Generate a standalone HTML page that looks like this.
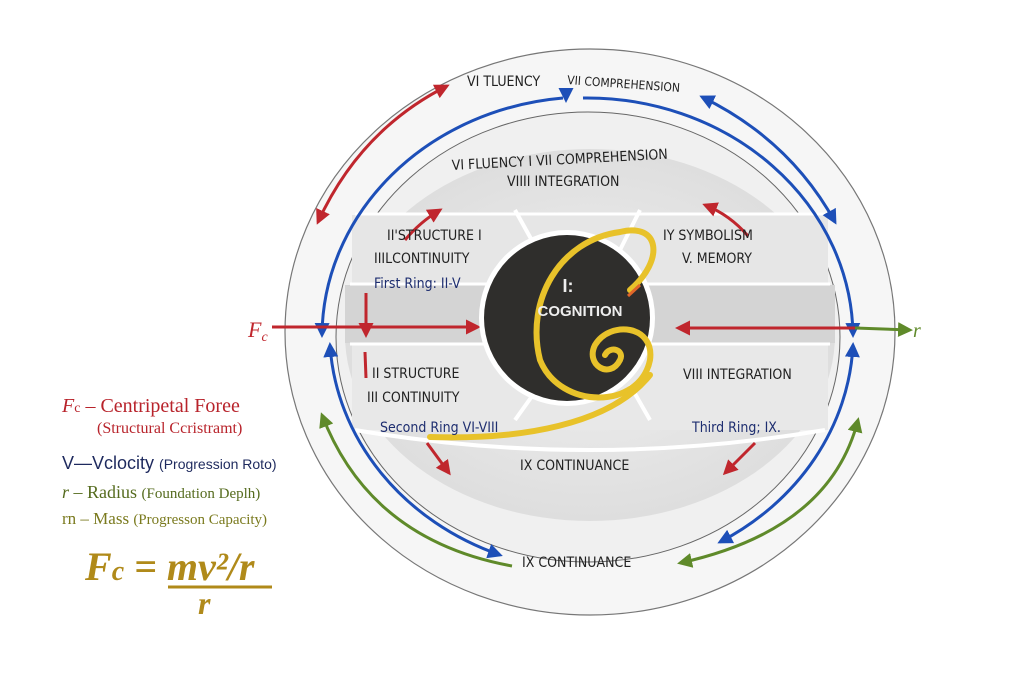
<!DOCTYPE html>
<html><head><meta charset="utf-8"><style>
html,body{margin:0;padding:0;background:#fff;}
svg{display:block;font-family:"Liberation Sans",sans-serif;}
</style></head><body>
<svg width="1023" height="682" viewBox="0 0 1023 682" xmlns="http://www.w3.org/2000/svg">
<defs>
<marker id="ar" viewBox="0 0 10 10" refX="8" refY="5" markerWidth="5" markerHeight="5" orient="auto-start-reverse"><path d="M0,0 L10,5 L0,10 z" fill="#c0262d"/></marker>
<marker id="ab" viewBox="0 0 10 10" refX="8" refY="5" markerWidth="5" markerHeight="5" orient="auto-start-reverse"><path d="M0,0 L10,5 L0,10 z" fill="#1d4fb8"/></marker>
<marker id="ag" viewBox="0 0 10 10" refX="8" refY="5" markerWidth="5" markerHeight="5" orient="auto-start-reverse"><path d="M0,0 L10,5 L0,10 z" fill="#5f8a2a"/></marker>
<radialGradient id="disc" cx="50%" cy="50%" r="50%"><stop offset="0" stop-color="#f0f0f0"/><stop offset="1" stop-color="#dedede"/></radialGradient>
</defs>
<ellipse cx="590" cy="332" rx="305" ry="283" fill="#f6f6f6" stroke="#777" stroke-width="1.2"/>
<ellipse cx="588" cy="337" rx="252" ry="225" fill="#f0f0f0" stroke="#666" stroke-width="1"/>
<ellipse cx="590" cy="335" rx="245" ry="186" fill="url(#disc)"/>
<rect x="352" y="215" width="476" height="68" fill="#e6e6e6"/>
<rect x="345" y="285" width="490" height="58" fill="#d4d4d4"/>
<rect x="352" y="345" width="476" height="85" fill="#e8e8e8"/>
<line x1="350" y1="284" x2="830" y2="284" stroke="#fff" stroke-width="3"/>
<line x1="350" y1="344" x2="830" y2="344" stroke="#fff" stroke-width="3"/>
<line x1="355" y1="214" x2="825" y2="214" stroke="#fff" stroke-width="3"/>
<path d="M355,430 Q590,470 825,430" fill="none" stroke="#fff" stroke-width="4"/>
<path d="M515,210 L540,255 M640,210 L620,250 M515,420 L540,385 M650,420 L630,385" stroke="#fff" stroke-width="4"/>
<!-- blue ring -->
<path d="M563,98 A266 240 0 0 0 322,335" fill="none" stroke="#1d4fb8" stroke-width="3" marker-end="url(#ab)"/>
<path d="M566,92 L566,100" stroke="#1d4fb8" stroke-width="3" marker-end="url(#ab)"/>
<path d="M583,98 A266 240 0 0 1 853,335" fill="none" stroke="#1d4fb8" stroke-width="3" marker-end="url(#ab)"/>
<path d="M702,97 Q790,140 835,222" fill="none" stroke="#1d4fb8" stroke-width="3" marker-start="url(#ab)" marker-end="url(#ab)"/>
<path d="M330,345 A266 240 0 0 0 500,555" fill="none" stroke="#1d4fb8" stroke-width="3" marker-start="url(#ab)" marker-end="url(#ab)"/>
<path d="M720,542 A266 240 0 0 0 853,345" fill="none" stroke="#1d4fb8" stroke-width="3" marker-start="url(#ab)" marker-end="url(#ab)"/>
<path d="M318,222 Q360,130 447,86" fill="none" stroke="#c0262d" stroke-width="3" marker-start="url(#ar)" marker-end="url(#ar)"/>
<path d="M322,415 Q370,540 512,566" fill="none" stroke="#5f8a2a" stroke-width="3" marker-start="url(#ag)"/>
<path d="M680,563 Q830,530 858,420" fill="none" stroke="#5f8a2a" stroke-width="3" marker-start="url(#ag)" marker-end="url(#ag)"/>
<path d="M405,240 Q420,222 440,210" fill="none" stroke="#c0262d" stroke-width="3" marker-end="url(#ar)"/>
<path d="M748,236 Q730,215 705,205" fill="none" stroke="#c0262d" stroke-width="3" marker-end="url(#ar)"/>
<path d="M427,443 L449,473" stroke="#c0262d" stroke-width="3" marker-end="url(#ar)"/>
<path d="M755,443 L725,473" stroke="#c0262d" stroke-width="3" marker-end="url(#ar)"/>
<path d="M366,293 L366,335" stroke="#c0262d" stroke-width="3" marker-end="url(#ar)"/>
<path d="M365,352 L366,378" stroke="#c0262d" stroke-width="3"/>
<path d="M272,327 L478,327" stroke="#c0262d" stroke-width="3" marker-end="url(#ar)"/>
<path d="M860,328 L678,328" stroke="#c0262d" stroke-width="3" marker-end="url(#ar)"/>
<path d="M855,328 L910,330" stroke="#5f8a2a" stroke-width="3" marker-end="url(#ag)"/>
<circle cx="567" cy="318" r="88" fill="#fff"/>
<circle cx="567" cy="318" r="83" fill="#2f2e2c"/>
<path d="M630,290 C665,260 660,222 620,232 C560,240 525,300 540,360 C560,410 640,410 650,360 C655,325 610,320 595,345 C585,365 610,380 620,360 C625,350 610,345 605,355" fill="none" stroke="#e8c22a" stroke-width="6" stroke-linecap="round"/>
<path d="M430,437 C520,440 610,425 650,375" fill="none" stroke="#e8c22a" stroke-width="6" stroke-linecap="round"/>
<path d="M640,285 L628,296" stroke="#e0662a" stroke-width="3"/>
<text x="568" y="292" fill="#eee" font-size="18" font-weight="bold" text-anchor="middle">I:</text>
<text x="580" y="316" fill="#eee" font-size="15" font-weight="bold" text-anchor="middle">COGNITION</text>
<g fill="#222" font-size="14" font-family="'DejaVu Sans Condensed','DejaVu Sans',sans-serif">
<text x="467" y="86">VI TLUENCY</text>
<text x="567" y="84" font-size="12" transform="rotate(4 567 84)">VII COMPREHENSION</text>
<text x="452" y="170" font-size="14" transform="rotate(-3 452 170)">VI FLUENCY I VII COMPREHENSION</text>
<text x="507" y="186">VIIII INTEGRATION</text>
<text x="387" y="240">II'STRUCTURE I</text>
<text x="374" y="263">IIILCONTINUITY</text>
<text x="663" y="240">IY SYMBOLISM</text>
<text x="682" y="263">V. MEMORY</text>
<text x="372" y="378">II STRUCTURE</text>
<text x="367" y="402">III CONTINUITY</text>
<text x="683" y="379">VIII INTEGRATION</text>
<text x="520" y="470">IX CONTINUANCE</text>
<text x="522" y="567">IX CONTINUANCE</text>
</g>
<g fill="#1e2e70" font-size="14" font-family="'DejaVu Sans Condensed','DejaVu Sans',sans-serif">
<text x="374" y="288">First Ring: II-V</text>
<text x="380" y="432">Second Ring VI-VIII</text>
<text x="692" y="432">Third Ring; IX.</text>
</g>
<text x="248" y="337" fill="#c0262d" font-size="22" font-style="italic" font-family="Liberation Serif,serif">F<tspan font-size="14" dy="4">c</tspan></text>
<text x="913" y="337" fill="#5f8a2a" font-size="20" font-style="italic" font-family="Liberation Serif,serif">r</text>
<text x="62" y="412" fill="#b8232b" font-size="20" font-family="Liberation Serif,serif"><tspan font-style="italic">F</tspan><tspan font-size="14">c</tspan> – Centripetal Foree</text>
<text x="97" y="433" fill="#b8232b" font-size="16" font-family="Liberation Serif,serif">(Structural Ccristramt)</text>
<text x="62" y="469" fill="#1e2a5e" font-size="18" font-family="Liberation Sans,sans-serif">V—Vclocity <tspan font-size="14">(Progression Roto)</tspan></text>
<text x="62" y="498" fill="#556b1e" font-size="18" font-family="Liberation Serif,serif"><tspan font-style="italic">r</tspan> – Radius <tspan font-size="15">(Foundation Deplh)</tspan></text>
<text x="62" y="524" fill="#7a7a1e" font-size="17" font-family="Liberation Serif,serif">rn – Mass <tspan font-size="15">(Progresson Capacity)</tspan></text>
<text x="85" y="580" fill="#b08a1a" font-size="40" font-weight="bold" font-style="italic" font-family="Liberation Serif,serif">F<tspan font-size="28">c</tspan> = <tspan>mv²/r</tspan></text>
<line x1="168" y1="587" x2="272" y2="587" stroke="#b08a1a" stroke-width="3"/>
<text x="198" y="614" fill="#b08a1a" font-size="32" font-weight="bold" font-style="italic" font-family="Liberation Serif,serif">r</text>
</svg>
</body></html>
